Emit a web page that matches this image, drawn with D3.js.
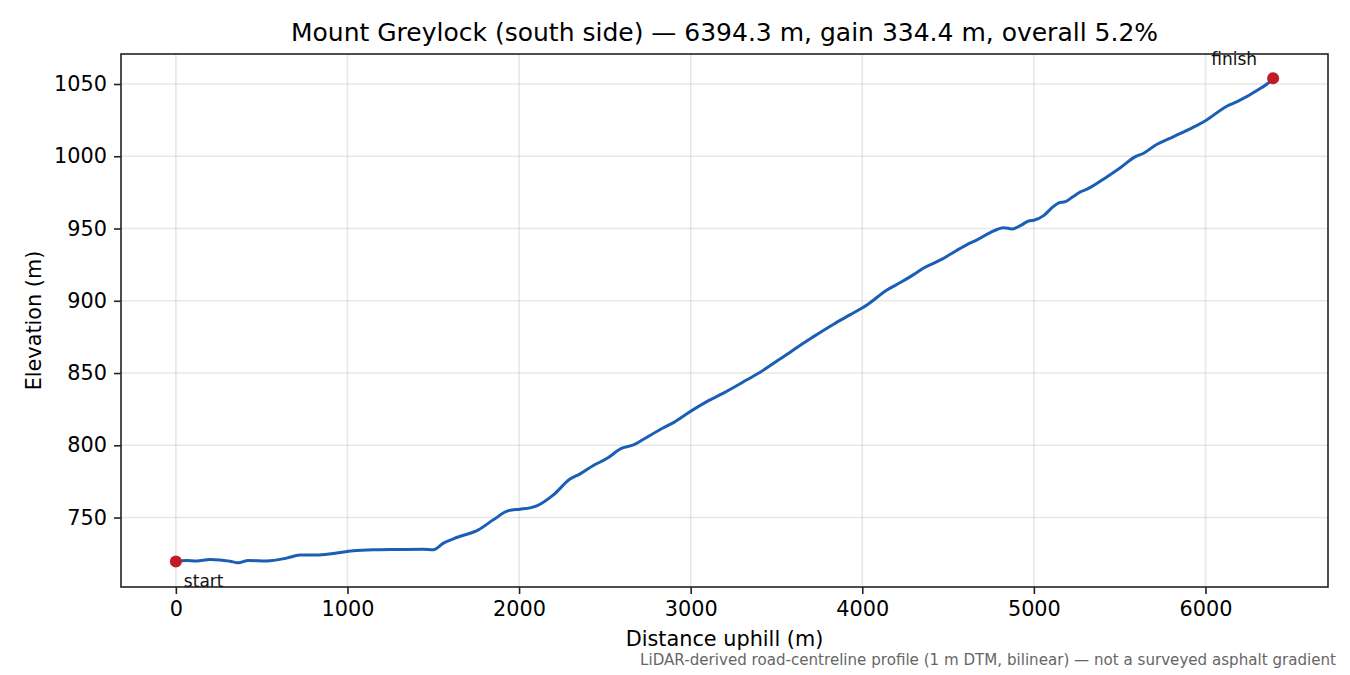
<!DOCTYPE html>
<html>
<head>
<meta charset="utf-8">
<script src="https://cdn.jsdelivr.net/npm/d3@7/dist/d3.min.js"></script>
<style>
  html, body { margin: 0; padding: 0; background: #fff; }
  svg { display: block; font-family: "DejaVu Sans", sans-serif; }
</style>
</head>
<body>
<div id="chart"></div>
<script>
// profile: distance uphill (m) and elevation (m)
var distance = [0, 62, 121, 198, 257, 315, 363, 422, 529, 645, 723, 820, 917, 1034, 1170, 1287,
  1442, 1500, 1559, 1637, 1763, 1850, 1938, 2006, 2064, 2103, 2200, 2297, 2356, 2433, 2511,
  2599, 2667, 2725, 2841, 2900, 2997, 3094, 3191, 3328, 3405, 3503, 3580, 3639, 3716, 3833,
  3930, 4027, 4144, 4222, 4299, 4358, 4465, 4513, 4611, 4669, 4746, 4824, 4873, 4921, 4970,
  4999, 5057, 5106, 5145, 5184, 5223, 5271, 5310, 5427, 5504, 5592, 5640, 5708, 5815, 5951,
  6000, 6127, 6185, 6321, 6369, 6394.3]
var elevation = [719.6, 720.3, 720.0, 720.9, 720.7, 719.8, 718.7, 720.3, 720.0, 721.9, 724.0,
  724.0, 725.1, 727.0, 727.7, 727.9, 728.1, 727.7, 732.3, 736.2, 741.5, 748.4, 754.8, 755.8,
  756.7, 758.1, 765.7, 776.6, 780.2, 786.0, 790.8, 798.0, 800.3, 804.2, 812.1, 815.7, 823.3,
  830.2, 836.1, 845.3, 850.6, 858.4, 864.4, 869.3, 875.2, 883.8, 890.4, 897.1, 907.5, 912.6,
  918.1, 922.7, 928.8, 932.2, 938.9, 942.1, 947.2, 950.6, 949.7, 952.0, 955.2, 955.7, 958.9,
  964.4, 967.7, 968.6, 971.6, 975.3, 977.2, 985.9, 992.1, 999.7, 1002.1, 1007.6, 1013.6,
  1021.4, 1024.6, 1034.8, 1037.8, 1047.0, 1050.9, 1054.0]

var xTicks = [0, 1000, 2000, 3000, 4000, 5000, 6000]
var yTicks = [750, 800, 850, 900, 950, 1000, 1050]

var titleText = "Mount Greylock (south side) \u2014 6394.3 m, gain 334.4 m, overall 5.2%"
var xLabel = "Distance uphill (m)"
var yLabel = "Elevation (m)"
var noteText = "LiDAR-derived road-centreline profile (1 m DTM, bilinear) \u2014 not a surveyed asphalt gradient"

var W = 1350, H = 675
var margin = {top: 54, right: 22, bottom: 88, left: 121}
var width = W - margin.left - margin.right
var height = H - margin.top - margin.bottom

var svg = d3.select("#chart").append("svg")
    .attr("width", W)
    .attr("height", H)

var plot = svg.append("g")
    .attr("transform", `translate(${margin.left},${margin.top})`)

// matplotlib-like 5% padding on both axes
var xMin = d3.min(distance), xMax = d3.max(distance)
var yMin = d3.min(elevation), yMax = d3.max(elevation)
var xPad = (xMax - xMin) * 0.05, yPad = (yMax - yMin) * 0.05

var xScale = d3.scaleLinear().domain([xMin - xPad, xMax + xPad]).range([0, width])
var yScale = d3.scaleLinear().domain([yMin - yPad, yMax + yPad]).range([height, 0])

// grid
plot.append("g").selectAll("line").data(xTicks).join("line")
    .attr("x1", d => xScale(d)).attr("x2", d => xScale(d))
    .attr("y1", 0).attr("y2", height)
    .attr("stroke", "#b0b0b0").attr("stroke-opacity", 0.3).attr("stroke-width", 1.6)
plot.append("g").selectAll("line").data(yTicks).join("line")
    .attr("y1", d => yScale(d)).attr("y2", d => yScale(d))
    .attr("x1", 0).attr("x2", width)
    .attr("stroke", "#b0b0b0").attr("stroke-opacity", 0.3).attr("stroke-width", 1.6)

var xAxis = d3.axisBottom(xScale).tickValues(xTicks).tickFormat(d3.format("d"))
    .tickSizeInner(7).tickSizeOuter(0).tickPadding(7)
var yAxis = d3.axisLeft(yScale).tickValues(yTicks).tickFormat(d3.format("d"))
    .tickSizeInner(7).tickSizeOuter(0).tickPadding(7)

var gx = plot.append("g")
    .attr("transform", `translate(0,${height})`)
    .call(xAxis)
var gy = plot.append("g").call(yAxis)

;[gx, gy].forEach(function(g){
    g.select(".domain").remove()
    g.selectAll(".tick line").attr("stroke", "#222").attr("stroke-width", 1.6)
    g.selectAll(".tick text").attr("fill", "#000").style("font-size", "20.8px")
        .style("font-family", "DejaVu Sans")
})

// frame
plot.append("rect")
    .attr("x", 0).attr("y", 0).attr("width", width).attr("height", height)
    .attr("fill", "none").attr("stroke", "#222").attr("stroke-width", 1.6)

// profile line
var line = d3.line()
    .x((d, i) => xScale(distance[i]))
    .y(d => yScale(d))
    .curve(d3.curveMonotoneX)

plot.append("path")
    .datum(elevation)
    .attr("d", line)
    .attr("fill", "none")
    .attr("stroke", "#1a5fb4")
    .attr("stroke-width", 3)
    .attr("stroke-linejoin", "round")
    .attr("stroke-linecap", "round")

// start / finish markers
var last = distance.length - 1
var ends = [
    {x: distance[0], y: elevation[0], label: "start", dx: 8, dy: 26, anchor: "start"},
    {x: distance[last], y: elevation[last], label: "finish", dx: -16, dy: -13, anchor: "end"}
]
plot.selectAll("circle.end").data(ends).join("circle")
    .attr("class", "end")
    .attr("cx", d => xScale(d.x)).attr("cy", d => yScale(d.y))
    .attr("r", 6)
    .attr("fill", "#c01c28")
plot.selectAll("text.endlabel").data(ends).join("text")
    .attr("class", "endlabel")
    .attr("x", d => xScale(d.x) + d.dx)
    .attr("y", d => yScale(d.y) + d.dy)
    .attr("text-anchor", d => d.anchor)
    .style("font-size", "17px")
    .attr("fill", "#111")
    .text(d => d.label)

// title and labels
svg.append("text")
    .attr("x", margin.left + width / 2).attr("y", 41)
    .attr("text-anchor", "middle")
    .style("font-size", "25px")
    .text(titleText)

svg.append("text")
    .attr("x", margin.left + width / 2).attr("y", 646)
    .attr("text-anchor", "middle")
    .style("font-size", "20.8px")
    .text(xLabel)

svg.append("text")
    .attr("transform", `translate(41,${margin.top + height / 2}) rotate(-90)`)
    .attr("text-anchor", "middle")
    .style("font-size", "20.8px")
    .text(yLabel)

svg.append("text")
    .attr("x", 1336).attr("y", 665)
    .attr("text-anchor", "end")
    .style("font-size", "15.1px")
    .attr("fill", "#666")
    .text(noteText)
</script>
</body>
</html>
